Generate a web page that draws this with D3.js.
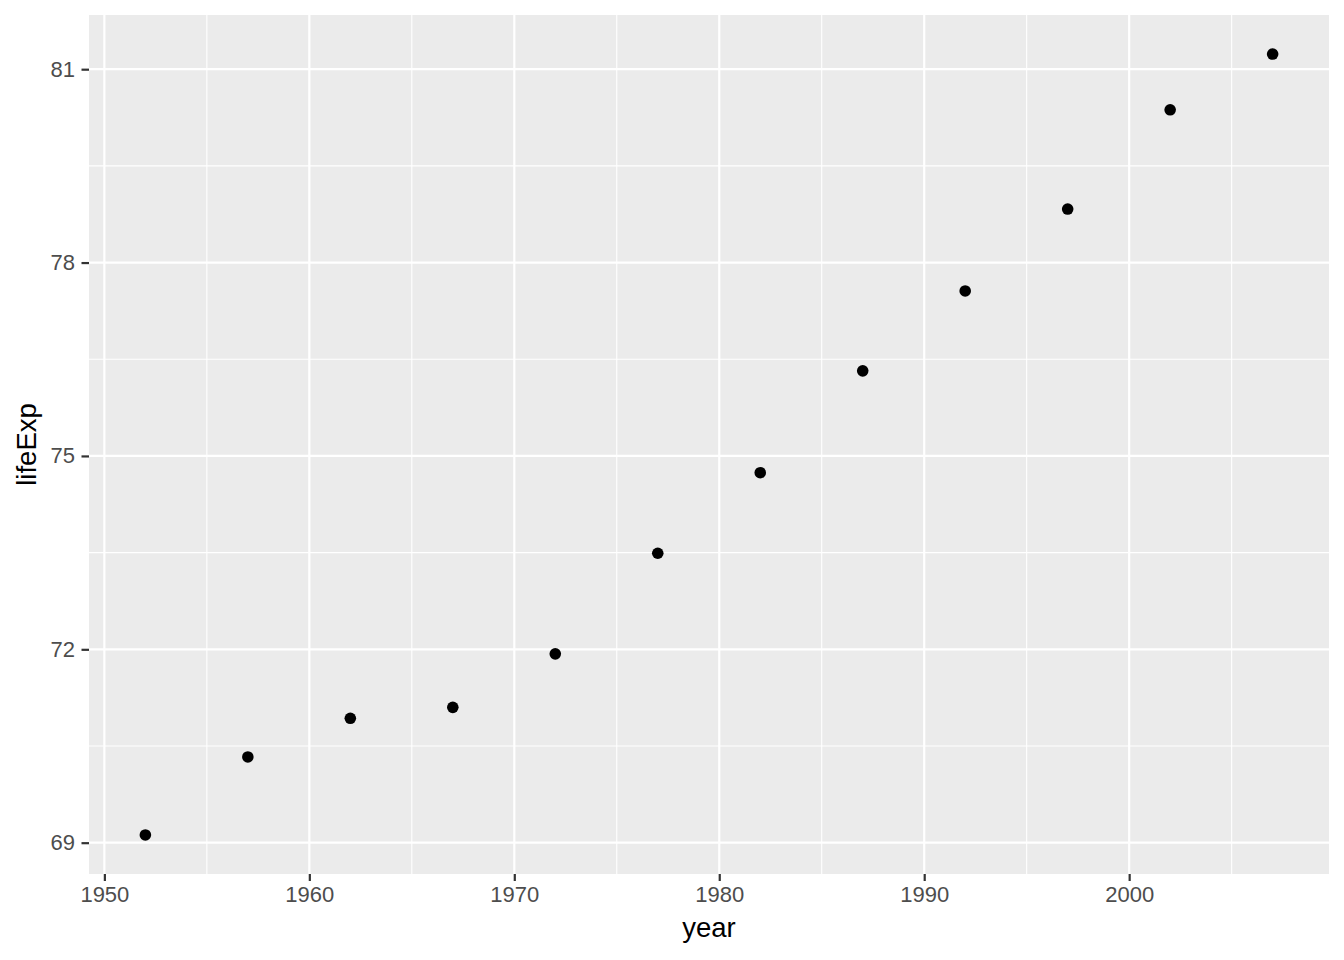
<!DOCTYPE html>
<html><head><meta charset="utf-8">
<script src="https://cdn.jsdelivr.net/npm/d3@7"></script>
<style>body{margin:0;background:#fff}svg{display:block}</style>
</head><body>
<script>
const years = [1952,1957,1962,1967,1972,1977,1982,1987,1992,1997,2002,2007];
const lifeExp = [69.12,70.33,70.93,71.1,71.93,73.49,74.74,76.32,77.56,78.83,80.37,81.235];
const xTicks = [1950,1960,1970,1980,1990,2000];
const xMinor = [1955,1965,1975,1985,1995,2005];
const yTicks = [69,72,75,78,81];
const yMinor = [70.5,73.5,76.5,79.5];

(function(){
const W=1344,H=960;
const pL=89,pR=1329,pT=15,pB=874;
const FONT="Liberation Sans, Arial, sans-serif";
const svg=d3.select("body").append("svg").attr("width",W).attr("height",H);

const xr=d3.extent(years), xpad=(xr[1]-xr[0])*0.05;
const yr=d3.extent(lifeExp), ypad=(yr[1]-yr[0])*0.05;
const x=d3.scaleLinear().domain([xr[0]-xpad,xr[1]+xpad]).range([pL,pR]);
const y=d3.scaleLinear().domain([yr[0]-ypad,yr[1]+ypad]).range([pB,pT]);

svg.append("rect").attr("x",pL).attr("y",pT).attr("width",pR-pL).attr("height",pB-pT).attr("fill","#ebebeb");

const g=svg.append("g");
g.selectAll(".xmin").data(xMinor).join("line").attr("x1",d=>x(d)).attr("x2",d=>x(d)).attr("y1",pT).attr("y2",pB).attr("stroke","#fff").attr("stroke-width",1.1);
g.selectAll(".ymin").data(yMinor).join("line").attr("y1",d=>y(d)).attr("y2",d=>y(d)).attr("x1",pL).attr("x2",pR).attr("stroke","#fff").attr("stroke-width",1.1);
g.selectAll(".xmaj").data(xTicks).join("line").attr("x1",d=>x(d)).attr("x2",d=>x(d)).attr("y1",pT).attr("y2",pB).attr("stroke","#fff").attr("stroke-width",2.2);
g.selectAll(".ymaj").data(yTicks).join("line").attr("y1",d=>y(d)).attr("y2",d=>y(d)).attr("x1",pL).attr("x2",pR).attr("stroke","#fff").attr("stroke-width",2.2);

const xAxis=svg.append("g").attr("transform",`translate(0,${pB})`)
  .call(d3.axisBottom(x).tickValues(xTicks).tickFormat(d3.format("d")).tickSize(7).tickPadding(5.5));
const yAxis=svg.append("g").attr("transform",`translate(${pL},0)`)
  .call(d3.axisLeft(y).tickValues(yTicks).tickFormat(d3.format("d")).tickSize(7.5).tickPadding(6.5));
[xAxis,yAxis].forEach(a=>{
  a.select(".domain").remove();
  a.selectAll(".tick line").attr("stroke","#333").attr("stroke-width",2.2);
  a.selectAll(".tick text").attr("fill","#4d4d4d").style("font-family",FONT).style("font-size","22px");
});

svg.selectAll(".pt").data(years).join("circle")
  .attr("cx",d=>x(d)).attr("cy",(d,i)=>y(lifeExp[i])).attr("r",5.8).attr("fill","#000");

svg.append("text").attr("x",(pL+pR)/2).attr("y",937).attr("text-anchor","middle")
  .style("font-family",FONT).style("font-size","27.5px").attr("fill","#000").text("year");
svg.append("text").attr("transform",`translate(36,${(pT+pB)/2}) rotate(-90)`).attr("text-anchor","middle")
  .style("font-family",FONT).style("font-size","27.5px").attr("fill","#000").text("lifeExp");
})();
</script>
</body></html>
